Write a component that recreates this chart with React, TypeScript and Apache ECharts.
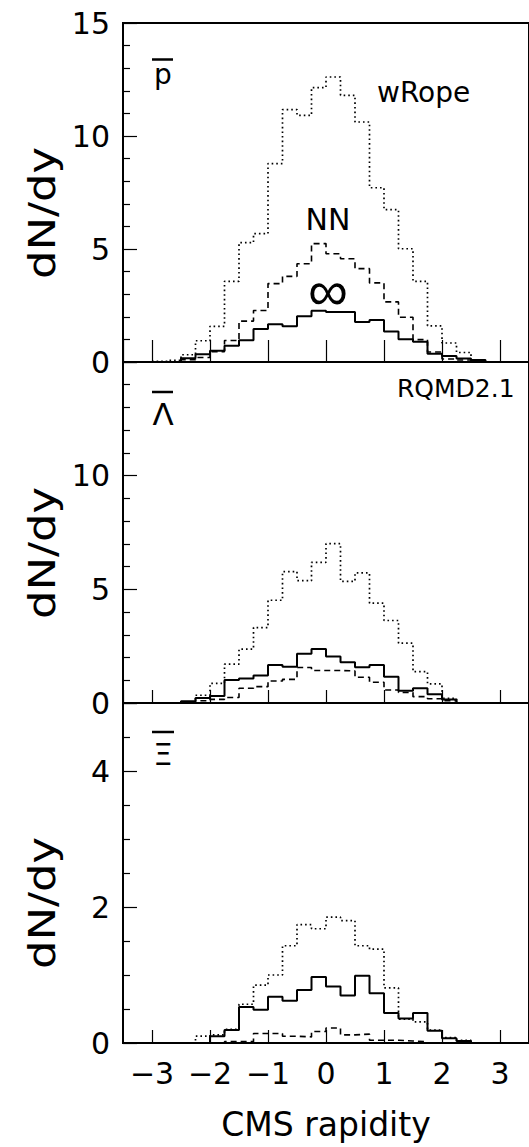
import React, { useEffect, useRef } from 'react';
import * as echarts from 'echarts';

// Left edges of the 0.25-wide rapidity bins
const binLeftEdges = [
  -3.0, -2.75, -2.5, -2.25, -2.0, -1.75, -1.5, -1.25, -1.0, -0.75, -0.5, -0.25,
  0.0, 0.25, 0.5, 0.75, 1.0, 1.25, 1.5, 1.75, 2.0, 2.25, 2.5, 2.75,
];
const lastBinRightEdge = 3.0;

// Panel 1: anti-proton
const pbarRope = [0.03, 0.07, 0.32, 0.94, 1.58, 3.57, 5.28, 5.68, 8.78, 11.17, 10.91, 12.14, 12.61, 11.8, 10.62, 7.71, 6.74, 5.01, 3.57, 1.6, 0.84, 0.42, 0.08, 0];
const pbarNN = [0, 0, 0.1, 0.2, 0.46, 0.95, 1.81, 2.28, 3.47, 3.79, 4.35, 5.24, 4.79, 4.57, 4.13, 3.5, 2.66, 1.98, 0.99, 0.44, 0.13, 0.09, 0.05, 0];
const pbarInf = [0, 0, 0.17, 0.34, 0.5, 0.72, 0.96, 1.46, 1.67, 1.58, 2.02, 2.27, 2.21, 2.21, 1.77, 1.86, 1.35, 1.01, 0.9, 0.36, 0.27, 0.16, 0.09, 0];

// Panel 2: anti-lambda
const lbarRope = [0, 0, 0.03, 0.34, 0.86, 1.71, 2.37, 3.32, 4.52, 5.78, 5.38, 6.19, 7.01, 5.35, 5.72, 4.39, 3.63, 2.63, 1.38, 0.84, 0.21, 0, 0, 0];
const lbarNN = [0, 0, 0.03, 0.1, 0.16, 0.24, 0.65, 0.72, 0.97, 1.04, 1.56, 1.43, 1.43, 1.41, 1.13, 0.91, 0.57, 0.46, 0.28, 0.19, 0.1, 0, 0, 0];
const lbarInf = [0, 0, 0.08, 0.22, 0.31, 1.01, 1.08, 1.21, 1.67, 1.6, 2.17, 2.38, 2.04, 1.79, 1.57, 1.67, 1.16, 0.54, 0.65, 0.39, 0.15, 0, 0, 0];

// Panel 3: anti-xi
const xbarRope = [0, 0, 0, 0.1, 0.12, 0.2, 0.57, 0.85, 1.0, 1.43, 1.74, 1.68, 1.85, 1.8, 1.43, 1.38, 0.81, 0.35, 0.31, 0.19, 0.08, 0.04, 0, 0];
const xbarNN = [0, 0, 0, 0, 0, 0.02, 0.02, 0.14, 0.14, 0.1, 0.09, 0.17, 0.22, 0.12, 0.13, 0.04, 0.04, 0.03, 0.02, 0, 0, 0, 0, 0];
const xbarInf = [0, 0, 0, 0, 0.1, 0.19, 0.53, 0.49, 0.68, 0.62, 0.78, 0.97, 0.83, 0.7, 0.99, 0.73, 0.44, 0.36, 0.44, 0.18, 0.07, 0.03, 0, 0];

const yMax = [15, 15, 5];
const yInterval = [5, 5, 2];
const yMinorSplit = [5, 5, 4];
const yShowMaxLabel = [true, false, false];
const xTickLength = [22, 13, 13];

const FONT = '"DejaVu Sans", "Liberation Sans", sans-serif';

function histo(vals: number[]) {
  const pts: number[][] = binLeftEdges.map((x, i) => [x, vals[i]]);
  pts.push([lastBinRightEdge, 0]);
  return pts;
}

function fmtX(v: number) {
  if (Math.abs(v - Math.round(v)) > 1e-6) return '';
  const r = Math.round(v);
  return r < 0 ? '\u2212' + Math.abs(r) : String(r);
}

export default function App() {
  const ref = useRef<HTMLDivElement>(null);
  useEffect(() => {
    if (!ref.current) return;
    const chart = echarts.init(ref.current, null, { renderer: 'svg' });
    const grids = [
      { left: 123, top: 23, width: 408, height: 339 },
      { left: 123, top: 362, width: 408, height: 341 },
      { left: 123, top: 703, width: 408, height: 340 },
    ].map((g) => ({ ...g, show: true, borderColor: '#000', borderWidth: 2, backgroundColor: 'transparent' }));

    const xAxis = [0, 1, 2].map((i) => ({
      gridIndex: i,
      type: 'value',
      min: -3.5,
      max: 3.5,
      minInterval: 1,
      maxInterval: 1,
      axisLine: { show: true, onZero: false, lineStyle: { color: '#000', width: 2 } },
      axisTick: { show: true, inside: true, length: xTickLength[i], lineStyle: { color: '#000', width: 1.2 } },
      axisLabel: {
        show: i === 2,
        formatter: fmtX,
        fontSize: 30,
        fontFamily: FONT,
        color: '#000',
        margin: 15,
        showMinLabel: false,
        showMaxLabel: false,
      },
      splitLine: { show: false },
      name: i === 2 ? 'CMS rapidity' : '',
      nameLocation: 'middle',
      nameGap: 65,
      nameTextStyle: { fontSize: 33, fontFamily: FONT, color: '#000' },
    }));

    const yAxis = [0, 1, 2].map((i) => ({
      gridIndex: i,
      type: 'value',
      min: 0,
      max: yMax[i],
      interval: yInterval[i],
      axisLine: { show: true, onZero: false, lineStyle: { color: '#000', width: 2 } },
      axisTick: { show: true, inside: true, length: 14, lineStyle: { color: '#000', width: 1.2 } },
      minorTick: { show: true, splitNumber: yMinorSplit[i], length: 7, lineStyle: { color: '#000', width: 1.2 } },
      axisLabel: {
        fontSize: 30,
        fontFamily: FONT,
        color: '#000',
        margin: 13,
        showMaxLabel: yShowMaxLabel[i],
        showMinLabel: true,
      },
      splitLine: { show: false },
      minorSplitLine: { show: false },
    }));

    const panels = [
      [pbarRope, pbarNN, pbarInf],
      [lbarRope, lbarNN, lbarInf],
      [xbarRope, xbarNN, xbarInf],
    ];
    const styles = [
      { type: [1.6, 3], width: 1.7 },
      { type: [6, 4], width: 1.6 },
      { type: 'solid', width: 2 },
    ];
    const names = ['wRope', 'NN', 'infinity'];
    const series: any[] = [];
    panels.forEach((p, i) => {
      p.forEach((vals, k) => {
        series.push({
          type: 'line',
          name: names[k],
          xAxisIndex: i,
          yAxisIndex: i,
          step: 'end',
          symbol: 'none',
          data: histo(vals),
          lineStyle: { color: '#000', width: styles[k].width, type: styles[k].type as any, cap: 'butt' },
          z: 3,
        });
      });
    });

    const txt = (text: string, x: number, y: number, size: number, align: string, weight: any = 'normal') => ({
      type: 'text',
      x,
      y,
      style: {
        text,
        fill: '#000',
        fontSize: size,
        fontFamily: FONT,
        fontWeight: weight,
        align,
        verticalAlign: 'middle',
        textAlign: align,
        textVerticalAlign: 'middle',
      },
    });
    const overline = (x1: number, x2: number, y: number) => ({
      type: 'line',
      shape: { x1, y1: y, x2, y2: y },
      style: { stroke: '#000', lineWidth: 2.5 },
    });
    const yTitle = (y: number) => ({
      type: 'text',
      x: 42,
      y,
      rotation: Math.PI / 2,
      scaleX: 1.18,
      style: {
        text: 'dN/dy',
        fill: '#000',
        fontSize: 38,
        fontFamily: FONT,
        align: 'center',
        verticalAlign: 'middle',
        textAlign: 'center',
        textVerticalAlign: 'middle',
      },
    });

    const graphic = [
      yTitle(213),
      yTitle(553),
      yTitle(903),
      txt('p', 163, 74, 28, 'center'),
      overline(152, 173, 59.5),
      txt('wRope', 377, 92, 28, 'left'),
      txt('NN', 328, 219, 30, 'center'),
      txt('\u221E', 328, 290, 56, 'center', 200),
      txt('RQMD2.1', 397, 388, 25, 'left'),
      txt('\u039B', 163, 414, 31, 'center'),
      overline(152, 173, 392),
      txt('\u039E', 163, 754, 31, 'center'),
      overline(152, 174, 732),
    ];

    chart.setOption({
      animation: false,
      backgroundColor: '#fff',
      grid: grids,
      xAxis,
      yAxis,
      series,
      graphic,
    } as any);
    return () => chart.dispose();
  }, []);
  return <div ref={ref} style={{ position: 'absolute', left: 0, top: 0, width: 529, height: 1147 }} />;
}
